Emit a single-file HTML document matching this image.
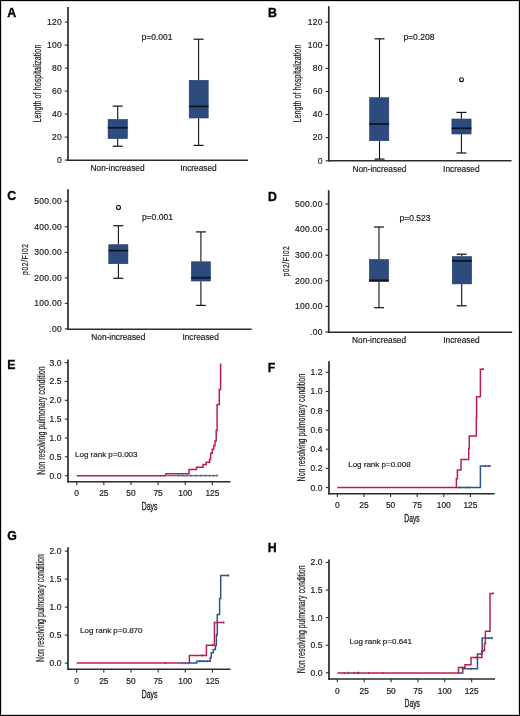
<!DOCTYPE html>
<html><head><meta charset="utf-8"><title>Figure</title>
<style>
html,body{margin:0;padding:0;background:#fff;}
body{width:520px;height:716px;overflow:hidden;}
svg{display:block;font-family:"Liberation Sans", sans-serif;will-change:transform;}
</style></head><body>
<svg width="520" height="716" viewBox="0 0 520 716">
<rect x="0" y="0" width="520" height="716" fill="#fff"/>
<rect x="1.5" y="1.5" width="517" height="713" fill="none" stroke="#d8d8d8" stroke-width="1"/>
<rect x="0.5" y="0.5" width="519" height="715" fill="none" stroke="#000" stroke-width="1"/>
<line x1="68.00" y1="7.00" x2="68.00" y2="161.00" stroke="#2a2a2a" stroke-width="1.7" />
<line x1="67.20" y1="160.20" x2="248.00" y2="160.20" stroke="#2a2a2a" stroke-width="1.6" />
<line x1="64.80" y1="160.10" x2="68.00" y2="160.10" stroke="#2a2a2a" stroke-width="1.1" />
<text x="62.00" y="162.80" font-size="8.5" text-anchor="end" font-weight="normal" fill="#1a1a1a" stroke="#1a1a1a" stroke-width="0.18" letter-spacing="0.3">0</text>
<line x1="64.80" y1="137.10" x2="68.00" y2="137.10" stroke="#2a2a2a" stroke-width="1.1" />
<text x="62.00" y="139.80" font-size="8.5" text-anchor="end" font-weight="normal" fill="#1a1a1a" stroke="#1a1a1a" stroke-width="0.18" letter-spacing="0.3">20</text>
<line x1="64.80" y1="114.10" x2="68.00" y2="114.10" stroke="#2a2a2a" stroke-width="1.1" />
<text x="62.00" y="116.80" font-size="8.5" text-anchor="end" font-weight="normal" fill="#1a1a1a" stroke="#1a1a1a" stroke-width="0.18" letter-spacing="0.3">40</text>
<line x1="64.80" y1="91.10" x2="68.00" y2="91.10" stroke="#2a2a2a" stroke-width="1.1" />
<text x="62.00" y="93.80" font-size="8.5" text-anchor="end" font-weight="normal" fill="#1a1a1a" stroke="#1a1a1a" stroke-width="0.18" letter-spacing="0.3">60</text>
<line x1="64.80" y1="68.10" x2="68.00" y2="68.10" stroke="#2a2a2a" stroke-width="1.1" />
<text x="62.00" y="70.80" font-size="8.5" text-anchor="end" font-weight="normal" fill="#1a1a1a" stroke="#1a1a1a" stroke-width="0.18" letter-spacing="0.3">80</text>
<line x1="64.80" y1="45.10" x2="68.00" y2="45.10" stroke="#2a2a2a" stroke-width="1.1" />
<text x="62.00" y="47.80" font-size="8.5" text-anchor="end" font-weight="normal" fill="#1a1a1a" stroke="#1a1a1a" stroke-width="0.18" letter-spacing="0.3">100</text>
<line x1="64.80" y1="22.10" x2="68.00" y2="22.10" stroke="#2a2a2a" stroke-width="1.1" />
<text x="62.00" y="24.80" font-size="8.5" text-anchor="end" font-weight="normal" fill="#1a1a1a" stroke="#1a1a1a" stroke-width="0.18" letter-spacing="0.3">120</text>
<text x="117.60" y="170.50" font-size="8.3" text-anchor="middle" font-weight="normal" fill="#1a1a1a" stroke="#1a1a1a" stroke-width="0.18" >Non-increased</text>
<text x="198.50" y="170.50" font-size="8.3" text-anchor="middle" font-weight="normal" fill="#1a1a1a" stroke="#1a1a1a" stroke-width="0.18" >Increased</text>
<text transform="translate(40.60,122.50) rotate(-90)" x="0" y="0" font-size="10.4" fill="#1a1a1a" stroke="#1a1a1a" stroke-width="0.2" textLength="77.90" lengthAdjust="spacingAndGlyphs">Length of hospitalization</text>
<line x1="117.70" y1="106.10" x2="117.70" y2="119.20" stroke="#111" stroke-width="1.1" />
<line x1="117.70" y1="138.80" x2="117.70" y2="146.20" stroke="#111" stroke-width="1.1" />
<line x1="112.70" y1="106.10" x2="122.70" y2="106.10" stroke="#111" stroke-width="1.2" />
<line x1="112.70" y1="146.20" x2="122.70" y2="146.20" stroke="#111" stroke-width="1.2" />
<rect x="108.10" y="119.40" width="19.20" height="19.20" fill="#2e4b7e" stroke="#1f3a6c" stroke-width="0.6"/>
<line x1="107.80" y1="127.80" x2="127.60" y2="127.80" stroke="#0b1322" stroke-width="1.7" />
<line x1="198.60" y1="39.20" x2="198.60" y2="80.10" stroke="#111" stroke-width="1.1" />
<line x1="198.60" y1="118.20" x2="198.60" y2="145.40" stroke="#111" stroke-width="1.1" />
<line x1="193.60" y1="39.20" x2="203.60" y2="39.20" stroke="#111" stroke-width="1.2" />
<line x1="193.60" y1="145.40" x2="203.60" y2="145.40" stroke="#111" stroke-width="1.2" />
<rect x="189.20" y="80.30" width="19.00" height="37.70" fill="#2e4b7e" stroke="#1f3a6c" stroke-width="0.6"/>
<line x1="188.90" y1="106.40" x2="208.50" y2="106.40" stroke="#0b1322" stroke-width="1.7" />
<text x="141.60" y="39.90" font-size="8.5" text-anchor="start" font-weight="normal" fill="#1a1a1a" stroke="#1a1a1a" stroke-width="0.18" >p=0.001</text>
<text x="7.30" y="17.20" font-size="12.3" text-anchor="start" font-weight="bold" fill="#000" stroke="#000" stroke-width="0.35" >A</text>
<line x1="328.80" y1="6.20" x2="328.80" y2="161.50" stroke="#2a2a2a" stroke-width="1.7" />
<line x1="328.00" y1="160.70" x2="511.50" y2="160.70" stroke="#2a2a2a" stroke-width="1.6" />
<line x1="325.60" y1="160.80" x2="328.80" y2="160.80" stroke="#2a2a2a" stroke-width="1.1" />
<text x="322.80" y="163.50" font-size="8.5" text-anchor="end" font-weight="normal" fill="#1a1a1a" stroke="#1a1a1a" stroke-width="0.18" letter-spacing="0.3">0</text>
<line x1="325.60" y1="137.70" x2="328.80" y2="137.70" stroke="#2a2a2a" stroke-width="1.1" />
<text x="322.80" y="140.40" font-size="8.5" text-anchor="end" font-weight="normal" fill="#1a1a1a" stroke="#1a1a1a" stroke-width="0.18" letter-spacing="0.3">20</text>
<line x1="325.60" y1="114.60" x2="328.80" y2="114.60" stroke="#2a2a2a" stroke-width="1.1" />
<text x="322.80" y="117.30" font-size="8.5" text-anchor="end" font-weight="normal" fill="#1a1a1a" stroke="#1a1a1a" stroke-width="0.18" letter-spacing="0.3">40</text>
<line x1="325.60" y1="91.50" x2="328.80" y2="91.50" stroke="#2a2a2a" stroke-width="1.1" />
<text x="322.80" y="94.20" font-size="8.5" text-anchor="end" font-weight="normal" fill="#1a1a1a" stroke="#1a1a1a" stroke-width="0.18" letter-spacing="0.3">60</text>
<line x1="325.60" y1="68.40" x2="328.80" y2="68.40" stroke="#2a2a2a" stroke-width="1.1" />
<text x="322.80" y="71.10" font-size="8.5" text-anchor="end" font-weight="normal" fill="#1a1a1a" stroke="#1a1a1a" stroke-width="0.18" letter-spacing="0.3">80</text>
<line x1="325.60" y1="45.30" x2="328.80" y2="45.30" stroke="#2a2a2a" stroke-width="1.1" />
<text x="322.80" y="48.00" font-size="8.5" text-anchor="end" font-weight="normal" fill="#1a1a1a" stroke="#1a1a1a" stroke-width="0.18" letter-spacing="0.3">100</text>
<line x1="325.60" y1="22.20" x2="328.80" y2="22.20" stroke="#2a2a2a" stroke-width="1.1" />
<text x="322.80" y="24.90" font-size="8.5" text-anchor="end" font-weight="normal" fill="#1a1a1a" stroke="#1a1a1a" stroke-width="0.18" letter-spacing="0.3">120</text>
<text x="379.40" y="171.90" font-size="8.3" text-anchor="middle" font-weight="normal" fill="#1a1a1a" stroke="#1a1a1a" stroke-width="0.18" >Non-increased</text>
<text x="461.30" y="171.90" font-size="8.3" text-anchor="middle" font-weight="normal" fill="#1a1a1a" stroke="#1a1a1a" stroke-width="0.18" >Increased</text>
<text transform="translate(301.40,122.50) rotate(-90)" x="0" y="0" font-size="10.4" fill="#1a1a1a" stroke="#1a1a1a" stroke-width="0.2" textLength="77.90" lengthAdjust="spacingAndGlyphs">Length of hospitalization</text>
<line x1="379.50" y1="38.80" x2="379.50" y2="97.50" stroke="#111" stroke-width="1.1" />
<line x1="379.50" y1="140.90" x2="379.50" y2="159.10" stroke="#111" stroke-width="1.1" />
<line x1="374.50" y1="38.80" x2="384.50" y2="38.80" stroke="#111" stroke-width="1.2" />
<line x1="374.50" y1="159.10" x2="384.50" y2="159.10" stroke="#111" stroke-width="1.2" />
<rect x="369.60" y="97.70" width="19.20" height="43.00" fill="#2e4b7e" stroke="#1f3a6c" stroke-width="0.6"/>
<line x1="369.30" y1="124.10" x2="389.10" y2="124.10" stroke="#0b1322" stroke-width="1.7" />
<line x1="461.40" y1="112.40" x2="461.40" y2="118.80" stroke="#111" stroke-width="1.1" />
<line x1="461.40" y1="134.20" x2="461.40" y2="153.00" stroke="#111" stroke-width="1.1" />
<line x1="456.40" y1="112.40" x2="466.40" y2="112.40" stroke="#111" stroke-width="1.2" />
<line x1="456.40" y1="153.00" x2="466.40" y2="153.00" stroke="#111" stroke-width="1.2" />
<rect x="451.90" y="119.00" width="19.20" height="15.00" fill="#2e4b7e" stroke="#1f3a6c" stroke-width="0.6"/>
<line x1="451.60" y1="128.30" x2="471.40" y2="128.30" stroke="#0b1322" stroke-width="1.7" />
<circle cx="461.50" cy="79.70" r="1.95" fill="#fff" stroke="#000" stroke-width="1.1"/>
<text x="403.40" y="39.60" font-size="8.5" text-anchor="start" font-weight="normal" fill="#1a1a1a" stroke="#1a1a1a" stroke-width="0.18" >p=0.208</text>
<text x="268.00" y="16.80" font-size="12.3" text-anchor="start" font-weight="bold" fill="#000" stroke="#000" stroke-width="0.35" >B</text>
<line x1="68.00" y1="189.20" x2="68.00" y2="330.00" stroke="#2a2a2a" stroke-width="1.7" />
<line x1="67.20" y1="329.20" x2="251.70" y2="329.20" stroke="#2a2a2a" stroke-width="1.6" />
<line x1="64.80" y1="328.90" x2="68.00" y2="328.90" stroke="#2a2a2a" stroke-width="1.1" />
<text x="62.00" y="331.60" font-size="8.5" text-anchor="end" font-weight="normal" fill="#1a1a1a" stroke="#1a1a1a" stroke-width="0.18" letter-spacing="0.3">.00</text>
<line x1="64.80" y1="303.38" x2="68.00" y2="303.38" stroke="#2a2a2a" stroke-width="1.1" />
<text x="62.00" y="306.08" font-size="8.5" text-anchor="end" font-weight="normal" fill="#1a1a1a" stroke="#1a1a1a" stroke-width="0.18" letter-spacing="0.3">100.00</text>
<line x1="64.80" y1="277.86" x2="68.00" y2="277.86" stroke="#2a2a2a" stroke-width="1.1" />
<text x="62.00" y="280.56" font-size="8.5" text-anchor="end" font-weight="normal" fill="#1a1a1a" stroke="#1a1a1a" stroke-width="0.18" letter-spacing="0.3">200.00</text>
<line x1="64.80" y1="252.34" x2="68.00" y2="252.34" stroke="#2a2a2a" stroke-width="1.1" />
<text x="62.00" y="255.04" font-size="8.5" text-anchor="end" font-weight="normal" fill="#1a1a1a" stroke="#1a1a1a" stroke-width="0.18" letter-spacing="0.3">300.00</text>
<line x1="64.80" y1="226.82" x2="68.00" y2="226.82" stroke="#2a2a2a" stroke-width="1.1" />
<text x="62.00" y="229.52" font-size="8.5" text-anchor="end" font-weight="normal" fill="#1a1a1a" stroke="#1a1a1a" stroke-width="0.18" letter-spacing="0.3">400.00</text>
<line x1="64.80" y1="201.30" x2="68.00" y2="201.30" stroke="#2a2a2a" stroke-width="1.1" />
<text x="62.00" y="204.00" font-size="8.5" text-anchor="end" font-weight="normal" fill="#1a1a1a" stroke="#1a1a1a" stroke-width="0.18" letter-spacing="0.3">500.00</text>
<text x="118.30" y="340.00" font-size="8.3" text-anchor="middle" font-weight="normal" fill="#1a1a1a" stroke="#1a1a1a" stroke-width="0.18" >Non-increased</text>
<text x="200.60" y="340.00" font-size="8.3" text-anchor="middle" font-weight="normal" fill="#1a1a1a" stroke="#1a1a1a" stroke-width="0.18" >Increased</text>
<text transform="translate(28.00,274.90) rotate(-90) scale(0.7,1)" x="0" y="0" font-size="9.7" fill="#1a1a1a" stroke="#1a1a1a" stroke-width="0.2" textLength="44.29" lengthAdjust="spacing">p02/FI02</text>
<line x1="118.40" y1="225.70" x2="118.40" y2="244.50" stroke="#111" stroke-width="1.1" />
<line x1="118.40" y1="263.90" x2="118.40" y2="278.30" stroke="#111" stroke-width="1.1" />
<line x1="113.40" y1="225.70" x2="123.40" y2="225.70" stroke="#111" stroke-width="1.2" />
<line x1="113.40" y1="278.30" x2="123.40" y2="278.30" stroke="#111" stroke-width="1.2" />
<rect x="108.80" y="244.70" width="19.10" height="19.00" fill="#2e4b7e" stroke="#1f3a6c" stroke-width="0.6"/>
<line x1="108.50" y1="250.60" x2="128.20" y2="250.60" stroke="#0b1322" stroke-width="1.7" />
<line x1="200.90" y1="231.90" x2="200.90" y2="261.60" stroke="#111" stroke-width="1.1" />
<line x1="200.90" y1="281.20" x2="200.90" y2="305.40" stroke="#111" stroke-width="1.1" />
<line x1="195.90" y1="231.90" x2="205.90" y2="231.90" stroke="#111" stroke-width="1.2" />
<line x1="195.90" y1="305.40" x2="205.90" y2="305.40" stroke="#111" stroke-width="1.2" />
<rect x="191.40" y="261.80" width="19.00" height="19.20" fill="#2e4b7e" stroke="#1f3a6c" stroke-width="0.6"/>
<line x1="191.10" y1="277.70" x2="210.70" y2="277.70" stroke="#0b1322" stroke-width="1.7" />
<circle cx="118.50" cy="207.50" r="1.95" fill="#fff" stroke="#000" stroke-width="1.1"/>
<text x="141.90" y="220.40" font-size="8.5" text-anchor="start" font-weight="normal" fill="#1a1a1a" stroke="#1a1a1a" stroke-width="0.18" >p=0.001</text>
<text x="7.20" y="199.80" font-size="12.3" text-anchor="start" font-weight="bold" fill="#000" stroke="#000" stroke-width="0.35" >C</text>
<line x1="328.70" y1="190.20" x2="328.70" y2="333.00" stroke="#2a2a2a" stroke-width="1.7" />
<line x1="327.90" y1="332.20" x2="512.20" y2="332.20" stroke="#2a2a2a" stroke-width="1.6" />
<line x1="325.50" y1="332.00" x2="328.70" y2="332.00" stroke="#2a2a2a" stroke-width="1.1" />
<text x="322.70" y="334.70" font-size="8.5" text-anchor="end" font-weight="normal" fill="#1a1a1a" stroke="#1a1a1a" stroke-width="0.18" letter-spacing="0.3">.00</text>
<line x1="325.50" y1="306.40" x2="328.70" y2="306.40" stroke="#2a2a2a" stroke-width="1.1" />
<text x="322.70" y="309.10" font-size="8.5" text-anchor="end" font-weight="normal" fill="#1a1a1a" stroke="#1a1a1a" stroke-width="0.18" letter-spacing="0.3">100.00</text>
<line x1="325.50" y1="280.80" x2="328.70" y2="280.80" stroke="#2a2a2a" stroke-width="1.1" />
<text x="322.70" y="283.50" font-size="8.5" text-anchor="end" font-weight="normal" fill="#1a1a1a" stroke="#1a1a1a" stroke-width="0.18" letter-spacing="0.3">200.00</text>
<line x1="325.50" y1="255.20" x2="328.70" y2="255.20" stroke="#2a2a2a" stroke-width="1.1" />
<text x="322.70" y="257.90" font-size="8.5" text-anchor="end" font-weight="normal" fill="#1a1a1a" stroke="#1a1a1a" stroke-width="0.18" letter-spacing="0.3">300.00</text>
<line x1="325.50" y1="229.60" x2="328.70" y2="229.60" stroke="#2a2a2a" stroke-width="1.1" />
<text x="322.70" y="232.30" font-size="8.5" text-anchor="end" font-weight="normal" fill="#1a1a1a" stroke="#1a1a1a" stroke-width="0.18" letter-spacing="0.3">400.00</text>
<line x1="325.50" y1="204.00" x2="328.70" y2="204.00" stroke="#2a2a2a" stroke-width="1.1" />
<text x="322.70" y="206.70" font-size="8.5" text-anchor="end" font-weight="normal" fill="#1a1a1a" stroke="#1a1a1a" stroke-width="0.18" letter-spacing="0.3">500.00</text>
<text x="379.10" y="343.00" font-size="8.3" text-anchor="middle" font-weight="normal" fill="#1a1a1a" stroke="#1a1a1a" stroke-width="0.18" >Non-increased</text>
<text x="461.50" y="343.00" font-size="8.3" text-anchor="middle" font-weight="normal" fill="#1a1a1a" stroke="#1a1a1a" stroke-width="0.18" >Increased</text>
<text transform="translate(289.40,276.60) rotate(-90) scale(0.7,1)" x="0" y="0" font-size="9.7" fill="#1a1a1a" stroke="#1a1a1a" stroke-width="0.2" textLength="43.57" lengthAdjust="spacing">p02/FI02</text>
<line x1="379.00" y1="227.00" x2="379.00" y2="259.30" stroke="#111" stroke-width="1.1" />
<line x1="379.00" y1="281.90" x2="379.00" y2="307.70" stroke="#111" stroke-width="1.1" />
<line x1="374.00" y1="227.00" x2="384.00" y2="227.00" stroke="#111" stroke-width="1.2" />
<line x1="374.00" y1="307.70" x2="384.00" y2="307.70" stroke="#111" stroke-width="1.2" />
<rect x="369.40" y="259.50" width="19.20" height="22.20" fill="#2e4b7e" stroke="#1f3a6c" stroke-width="0.6"/>
<line x1="369.10" y1="280.30" x2="388.90" y2="280.30" stroke="#0b1322" stroke-width="1.7" />
<line x1="461.70" y1="254.20" x2="461.70" y2="256.40" stroke="#111" stroke-width="1.1" />
<line x1="461.70" y1="284.10" x2="461.70" y2="305.80" stroke="#111" stroke-width="1.1" />
<line x1="456.70" y1="254.20" x2="466.70" y2="254.20" stroke="#111" stroke-width="1.2" />
<line x1="456.70" y1="305.80" x2="466.70" y2="305.80" stroke="#111" stroke-width="1.2" />
<rect x="452.30" y="256.60" width="19.30" height="27.30" fill="#2e4b7e" stroke="#1f3a6c" stroke-width="0.6"/>
<line x1="452.00" y1="260.90" x2="471.90" y2="260.90" stroke="#0b1322" stroke-width="1.7" />
<text x="399.60" y="220.60" font-size="8.5" text-anchor="start" font-weight="normal" fill="#1a1a1a" stroke="#1a1a1a" stroke-width="0.18" >p=0.523</text>
<text x="268.00" y="200.80" font-size="12.3" text-anchor="start" font-weight="bold" fill="#000" stroke="#000" stroke-width="0.35" >D</text>
<line x1="68.00" y1="359.50" x2="68.00" y2="482.60" stroke="#2a2a2a" stroke-width="1.7" />
<line x1="67.20" y1="481.80" x2="230.40" y2="481.80" stroke="#2a2a2a" stroke-width="1.6" />
<line x1="64.80" y1="475.70" x2="68.00" y2="475.70" stroke="#2a2a2a" stroke-width="1.1" />
<text x="61.40" y="478.60" font-size="8.5" text-anchor="end" font-weight="normal" fill="#1a1a1a" stroke="#1a1a1a" stroke-width="0.18" >0.0</text>
<line x1="64.80" y1="456.85" x2="68.00" y2="456.85" stroke="#2a2a2a" stroke-width="1.1" />
<text x="61.40" y="459.75" font-size="8.5" text-anchor="end" font-weight="normal" fill="#1a1a1a" stroke="#1a1a1a" stroke-width="0.18" >0.5</text>
<line x1="64.80" y1="438.00" x2="68.00" y2="438.00" stroke="#2a2a2a" stroke-width="1.1" />
<text x="61.40" y="440.90" font-size="8.5" text-anchor="end" font-weight="normal" fill="#1a1a1a" stroke="#1a1a1a" stroke-width="0.18" >1.0</text>
<line x1="64.80" y1="419.15" x2="68.00" y2="419.15" stroke="#2a2a2a" stroke-width="1.1" />
<text x="61.40" y="422.05" font-size="8.5" text-anchor="end" font-weight="normal" fill="#1a1a1a" stroke="#1a1a1a" stroke-width="0.18" >1.5</text>
<line x1="64.80" y1="400.30" x2="68.00" y2="400.30" stroke="#2a2a2a" stroke-width="1.1" />
<text x="61.40" y="403.20" font-size="8.5" text-anchor="end" font-weight="normal" fill="#1a1a1a" stroke="#1a1a1a" stroke-width="0.18" >2.0</text>
<line x1="64.80" y1="381.45" x2="68.00" y2="381.45" stroke="#2a2a2a" stroke-width="1.1" />
<text x="61.40" y="384.35" font-size="8.5" text-anchor="end" font-weight="normal" fill="#1a1a1a" stroke="#1a1a1a" stroke-width="0.18" >2.5</text>
<line x1="64.80" y1="362.60" x2="68.00" y2="362.60" stroke="#2a2a2a" stroke-width="1.1" />
<text x="61.40" y="365.50" font-size="8.5" text-anchor="end" font-weight="normal" fill="#1a1a1a" stroke="#1a1a1a" stroke-width="0.18" >3.0</text>
<line x1="76.70" y1="481.80" x2="76.70" y2="485.00" stroke="#2a2a2a" stroke-width="1.1" />
<text x="76.70" y="496.30" font-size="8.4" text-anchor="middle" font-weight="normal" fill="#1a1a1a" stroke="#1a1a1a" stroke-width="0.18" >0</text>
<line x1="103.84" y1="481.80" x2="103.84" y2="485.00" stroke="#2a2a2a" stroke-width="1.1" />
<text x="103.84" y="496.30" font-size="8.4" text-anchor="middle" font-weight="normal" fill="#1a1a1a" stroke="#1a1a1a" stroke-width="0.18" >25</text>
<line x1="130.98" y1="481.80" x2="130.98" y2="485.00" stroke="#2a2a2a" stroke-width="1.1" />
<text x="130.98" y="496.30" font-size="8.4" text-anchor="middle" font-weight="normal" fill="#1a1a1a" stroke="#1a1a1a" stroke-width="0.18" >50</text>
<line x1="158.12" y1="481.80" x2="158.12" y2="485.00" stroke="#2a2a2a" stroke-width="1.1" />
<text x="158.12" y="496.30" font-size="8.4" text-anchor="middle" font-weight="normal" fill="#1a1a1a" stroke="#1a1a1a" stroke-width="0.18" >75</text>
<line x1="185.26" y1="481.80" x2="185.26" y2="485.00" stroke="#2a2a2a" stroke-width="1.1" />
<text x="185.26" y="496.30" font-size="8.4" text-anchor="middle" font-weight="normal" fill="#1a1a1a" stroke="#1a1a1a" stroke-width="0.18" >100</text>
<line x1="212.40" y1="481.80" x2="212.40" y2="485.00" stroke="#2a2a2a" stroke-width="1.1" />
<text x="212.40" y="496.30" font-size="8.4" text-anchor="middle" font-weight="normal" fill="#1a1a1a" stroke="#1a1a1a" stroke-width="0.18" >125</text>
<text x="141.70" y="509.60" font-size="10.4" fill="#1a1a1a" stroke="#1a1a1a" stroke-width="0.3" textLength="15.70" lengthAdjust="spacingAndGlyphs">Days</text>
<text transform="translate(44.50,474.70) rotate(-90)" x="0" y="0" font-size="10.6" fill="#1a1a1a" stroke="#1a1a1a" stroke-width="0.2" textLength="108.30" lengthAdjust="spacingAndGlyphs">Non resolving pulmonary condition</text>
<text x="75.00" y="457.00" font-size="8.0" text-anchor="start" font-weight="normal" fill="#1a1a1a" stroke="#1a1a1a" stroke-width="0.18" >Log rank p=0.003</text>
<text x="7.30" y="369.00" font-size="12.3" text-anchor="start" font-weight="bold" fill="#000" stroke="#000" stroke-width="0.35" >E</text>
<path d="M166.90,475.60 L217.70,475.60" fill="none" stroke="#4a6ca8" stroke-width="1.2" stroke-linejoin="miter"/>
<path d="M76.70,475.70 L165.80,475.70 L165.80,473.70 L189.00,473.70 L189.00,469.40 L196.50,469.40 L196.50,467.30 L203.10,467.30 L203.10,464.50 L206.20,464.50 L206.20,462.20 L209.60,462.20 L209.60,459.40 L210.60,459.40 L210.60,453.30 L212.30,453.30 L212.30,449.30 L213.70,449.30 L213.70,445.40 L215.00,445.40 L215.00,440.90 L216.20,440.90 L216.20,430.40 L217.10,430.40 L217.10,404.40 L219.30,404.40 L219.30,389.40 L220.60,389.40 L220.60,363.40" fill="none" stroke="#bd1e48" stroke-width="1.5" stroke-linejoin="miter"/>
<line x1="178.70" y1="474.50" x2="178.70" y2="476.70" stroke="#4a6ca8" stroke-width="1.1" />
<line x1="182.80" y1="474.50" x2="182.80" y2="476.70" stroke="#4a6ca8" stroke-width="1.1" />
<line x1="186.50" y1="474.50" x2="186.50" y2="476.70" stroke="#4a6ca8" stroke-width="1.1" />
<line x1="190.80" y1="474.50" x2="190.80" y2="476.70" stroke="#4a6ca8" stroke-width="1.1" />
<line x1="196.20" y1="474.50" x2="196.20" y2="476.70" stroke="#4a6ca8" stroke-width="1.1" />
<line x1="201.00" y1="474.50" x2="201.00" y2="476.70" stroke="#4a6ca8" stroke-width="1.1" />
<line x1="205.50" y1="474.50" x2="205.50" y2="476.70" stroke="#4a6ca8" stroke-width="1.1" />
<line x1="209.50" y1="474.50" x2="209.50" y2="476.70" stroke="#4a6ca8" stroke-width="1.1" />
<line x1="213.50" y1="474.50" x2="213.50" y2="476.70" stroke="#4a6ca8" stroke-width="1.1" />
<line x1="217.00" y1="474.50" x2="217.00" y2="476.70" stroke="#4a6ca8" stroke-width="1.1" />
<line x1="329.00" y1="361.20" x2="329.00" y2="494.60" stroke="#2a2a2a" stroke-width="1.7" />
<line x1="328.20" y1="493.80" x2="494.60" y2="493.80" stroke="#2a2a2a" stroke-width="1.6" />
<line x1="325.80" y1="487.60" x2="329.00" y2="487.60" stroke="#2a2a2a" stroke-width="1.1" />
<text x="322.40" y="490.50" font-size="8.5" text-anchor="end" font-weight="normal" fill="#1a1a1a" stroke="#1a1a1a" stroke-width="0.18" >0.0</text>
<line x1="325.80" y1="468.38" x2="329.00" y2="468.38" stroke="#2a2a2a" stroke-width="1.1" />
<text x="322.40" y="471.28" font-size="8.5" text-anchor="end" font-weight="normal" fill="#1a1a1a" stroke="#1a1a1a" stroke-width="0.18" >0.2</text>
<line x1="325.80" y1="449.16" x2="329.00" y2="449.16" stroke="#2a2a2a" stroke-width="1.1" />
<text x="322.40" y="452.06" font-size="8.5" text-anchor="end" font-weight="normal" fill="#1a1a1a" stroke="#1a1a1a" stroke-width="0.18" >0.4</text>
<line x1="325.80" y1="429.94" x2="329.00" y2="429.94" stroke="#2a2a2a" stroke-width="1.1" />
<text x="322.40" y="432.84" font-size="8.5" text-anchor="end" font-weight="normal" fill="#1a1a1a" stroke="#1a1a1a" stroke-width="0.18" >0.6</text>
<line x1="325.80" y1="410.72" x2="329.00" y2="410.72" stroke="#2a2a2a" stroke-width="1.1" />
<text x="322.40" y="413.62" font-size="8.5" text-anchor="end" font-weight="normal" fill="#1a1a1a" stroke="#1a1a1a" stroke-width="0.18" >0.8</text>
<line x1="325.80" y1="391.50" x2="329.00" y2="391.50" stroke="#2a2a2a" stroke-width="1.1" />
<text x="322.40" y="394.40" font-size="8.5" text-anchor="end" font-weight="normal" fill="#1a1a1a" stroke="#1a1a1a" stroke-width="0.18" >1.0</text>
<line x1="325.80" y1="372.28" x2="329.00" y2="372.28" stroke="#2a2a2a" stroke-width="1.1" />
<text x="322.40" y="375.18" font-size="8.5" text-anchor="end" font-weight="normal" fill="#1a1a1a" stroke="#1a1a1a" stroke-width="0.18" >1.2</text>
<line x1="337.30" y1="493.80" x2="337.30" y2="497.00" stroke="#2a2a2a" stroke-width="1.1" />
<text x="337.30" y="508.10" font-size="8.4" text-anchor="middle" font-weight="normal" fill="#1a1a1a" stroke="#1a1a1a" stroke-width="0.18" >0</text>
<line x1="363.93" y1="493.80" x2="363.93" y2="497.00" stroke="#2a2a2a" stroke-width="1.1" />
<text x="363.93" y="508.10" font-size="8.4" text-anchor="middle" font-weight="normal" fill="#1a1a1a" stroke="#1a1a1a" stroke-width="0.18" >25</text>
<line x1="390.55" y1="493.80" x2="390.55" y2="497.00" stroke="#2a2a2a" stroke-width="1.1" />
<text x="390.55" y="508.10" font-size="8.4" text-anchor="middle" font-weight="normal" fill="#1a1a1a" stroke="#1a1a1a" stroke-width="0.18" >50</text>
<line x1="417.18" y1="493.80" x2="417.18" y2="497.00" stroke="#2a2a2a" stroke-width="1.1" />
<text x="417.18" y="508.10" font-size="8.4" text-anchor="middle" font-weight="normal" fill="#1a1a1a" stroke="#1a1a1a" stroke-width="0.18" >75</text>
<line x1="443.80" y1="493.80" x2="443.80" y2="497.00" stroke="#2a2a2a" stroke-width="1.1" />
<text x="443.80" y="508.10" font-size="8.4" text-anchor="middle" font-weight="normal" fill="#1a1a1a" stroke="#1a1a1a" stroke-width="0.18" >100</text>
<line x1="470.43" y1="493.80" x2="470.43" y2="497.00" stroke="#2a2a2a" stroke-width="1.1" />
<text x="470.43" y="508.10" font-size="8.4" text-anchor="middle" font-weight="normal" fill="#1a1a1a" stroke="#1a1a1a" stroke-width="0.18" >125</text>
<text x="404.30" y="521.80" font-size="10.4" fill="#1a1a1a" stroke="#1a1a1a" stroke-width="0.3" textLength="15.40" lengthAdjust="spacingAndGlyphs">Days</text>
<text transform="translate(305.20,481.40) rotate(-90)" x="0" y="0" font-size="10.6" fill="#1a1a1a" stroke="#1a1a1a" stroke-width="0.2" textLength="107.50" lengthAdjust="spacingAndGlyphs">Non resolving pulmonary condition</text>
<text x="348.20" y="466.90" font-size="8.0" text-anchor="start" font-weight="normal" fill="#1a1a1a" stroke="#1a1a1a" stroke-width="0.18" >Log rank p=0.008</text>
<text x="267.80" y="371.80" font-size="12.3" text-anchor="start" font-weight="bold" fill="#000" stroke="#000" stroke-width="0.35" >F</text>
<path d="M456.40,487.50 L480.40,487.50 L480.40,466.00 L490.90,466.00" fill="none" stroke="#31508f" stroke-width="1.5" stroke-linejoin="miter"/>
<path d="M337.30,487.50 L456.40,487.50 L456.40,478.70 L457.40,478.70 L457.40,470.10 L461.00,470.10 L461.00,459.60 L468.70,459.60 L468.70,448.50 L469.30,448.50 L469.30,435.90 L476.30,435.90 L476.30,418.10 L476.60,418.10 L476.60,396.80 L480.40,396.80 L480.40,369.20 L483.80,369.20" fill="none" stroke="#bd1e48" stroke-width="1.5" stroke-linejoin="miter"/>
<line x1="460.00" y1="486.40" x2="460.00" y2="488.60" stroke="#31508f" stroke-width="1.1" />
<line x1="466.00" y1="486.40" x2="466.00" y2="488.60" stroke="#31508f" stroke-width="1.1" />
<line x1="469.00" y1="486.40" x2="469.00" y2="488.60" stroke="#31508f" stroke-width="1.1" />
<line x1="485.00" y1="464.90" x2="485.00" y2="467.10" stroke="#31508f" stroke-width="1.1" />
<line x1="489.00" y1="464.90" x2="489.00" y2="467.10" stroke="#31508f" stroke-width="1.1" />
<line x1="483.20" y1="368.10" x2="483.20" y2="370.30" stroke="#bd1e48" stroke-width="1.1" />
<line x1="68.00" y1="547.30" x2="68.00" y2="670.10" stroke="#2a2a2a" stroke-width="1.7" />
<line x1="67.20" y1="669.30" x2="230.60" y2="669.30" stroke="#2a2a2a" stroke-width="1.6" />
<line x1="64.80" y1="663.10" x2="68.00" y2="663.10" stroke="#2a2a2a" stroke-width="1.1" />
<text x="61.40" y="666.00" font-size="8.5" text-anchor="end" font-weight="normal" fill="#1a1a1a" stroke="#1a1a1a" stroke-width="0.18" >0.0</text>
<line x1="64.80" y1="635.10" x2="68.00" y2="635.10" stroke="#2a2a2a" stroke-width="1.1" />
<text x="61.40" y="638.00" font-size="8.5" text-anchor="end" font-weight="normal" fill="#1a1a1a" stroke="#1a1a1a" stroke-width="0.18" >0.5</text>
<line x1="64.80" y1="607.10" x2="68.00" y2="607.10" stroke="#2a2a2a" stroke-width="1.1" />
<text x="61.40" y="610.00" font-size="8.5" text-anchor="end" font-weight="normal" fill="#1a1a1a" stroke="#1a1a1a" stroke-width="0.18" >1.0</text>
<line x1="64.80" y1="579.10" x2="68.00" y2="579.10" stroke="#2a2a2a" stroke-width="1.1" />
<text x="61.40" y="582.00" font-size="8.5" text-anchor="end" font-weight="normal" fill="#1a1a1a" stroke="#1a1a1a" stroke-width="0.18" >1.5</text>
<line x1="64.80" y1="551.10" x2="68.00" y2="551.10" stroke="#2a2a2a" stroke-width="1.1" />
<text x="61.40" y="554.00" font-size="8.5" text-anchor="end" font-weight="normal" fill="#1a1a1a" stroke="#1a1a1a" stroke-width="0.18" >2.0</text>
<line x1="76.70" y1="669.30" x2="76.70" y2="672.50" stroke="#2a2a2a" stroke-width="1.1" />
<text x="76.70" y="683.80" font-size="8.4" text-anchor="middle" font-weight="normal" fill="#1a1a1a" stroke="#1a1a1a" stroke-width="0.18" >0</text>
<line x1="103.84" y1="669.30" x2="103.84" y2="672.50" stroke="#2a2a2a" stroke-width="1.1" />
<text x="103.84" y="683.80" font-size="8.4" text-anchor="middle" font-weight="normal" fill="#1a1a1a" stroke="#1a1a1a" stroke-width="0.18" >25</text>
<line x1="130.98" y1="669.30" x2="130.98" y2="672.50" stroke="#2a2a2a" stroke-width="1.1" />
<text x="130.98" y="683.80" font-size="8.4" text-anchor="middle" font-weight="normal" fill="#1a1a1a" stroke="#1a1a1a" stroke-width="0.18" >50</text>
<line x1="158.12" y1="669.30" x2="158.12" y2="672.50" stroke="#2a2a2a" stroke-width="1.1" />
<text x="158.12" y="683.80" font-size="8.4" text-anchor="middle" font-weight="normal" fill="#1a1a1a" stroke="#1a1a1a" stroke-width="0.18" >75</text>
<line x1="185.26" y1="669.30" x2="185.26" y2="672.50" stroke="#2a2a2a" stroke-width="1.1" />
<text x="185.26" y="683.80" font-size="8.4" text-anchor="middle" font-weight="normal" fill="#1a1a1a" stroke="#1a1a1a" stroke-width="0.18" >100</text>
<line x1="212.40" y1="669.30" x2="212.40" y2="672.50" stroke="#2a2a2a" stroke-width="1.1" />
<text x="212.40" y="683.80" font-size="8.4" text-anchor="middle" font-weight="normal" fill="#1a1a1a" stroke="#1a1a1a" stroke-width="0.18" >125</text>
<text x="141.70" y="697.60" font-size="10.4" fill="#1a1a1a" stroke="#1a1a1a" stroke-width="0.3" textLength="15.70" lengthAdjust="spacingAndGlyphs">Days</text>
<text transform="translate(43.70,661.90) rotate(-90)" x="0" y="0" font-size="10.6" fill="#1a1a1a" stroke="#1a1a1a" stroke-width="0.2" textLength="107.70" lengthAdjust="spacingAndGlyphs">Non resolving pulmonary condition</text>
<text x="80.00" y="632.80" font-size="8.0" text-anchor="start" font-weight="normal" fill="#1a1a1a" stroke="#1a1a1a" stroke-width="0.18" >Log rank p=0.870</text>
<text x="7.20" y="539.80" font-size="12.3" text-anchor="start" font-weight="bold" fill="#000" stroke="#000" stroke-width="0.35" >G</text>
<path d="M76.70,663.10 L189.40,663.10 L189.40,655.40 L206.40,655.40 L206.40,645.20 L214.40,645.20 L214.40,622.50 L224.50,622.50" fill="none" stroke="#bd1e48" stroke-width="1.5" stroke-linejoin="miter"/>
<path d="M189.60,663.10 L196.70,663.10 L196.70,661.20 L210.20,661.20 L210.20,657.60 L211.30,657.60 L211.30,652.70 L213.30,652.70 L213.30,649.60 L215.40,649.60 L215.40,645.40 L216.40,645.40 L216.40,634.80 L217.30,634.80 L217.30,614.50 L219.60,614.50 L219.60,598.40 L220.70,598.40 L220.70,575.40 L229.20,575.40" fill="none" stroke="#31508f" stroke-width="1.5" stroke-linejoin="miter"/>
<line x1="202.30" y1="654.30" x2="202.30" y2="656.50" stroke="#bd1e48" stroke-width="1.1" />
<line x1="212.30" y1="644.10" x2="212.30" y2="646.30" stroke="#bd1e48" stroke-width="1.1" />
<line x1="223.60" y1="621.40" x2="223.60" y2="623.60" stroke="#bd1e48" stroke-width="1.1" />
<line x1="165.50" y1="662.00" x2="165.50" y2="664.20" stroke="#31508f" stroke-width="1.1" />
<line x1="182.30" y1="662.00" x2="182.30" y2="664.20" stroke="#31508f" stroke-width="1.1" />
<line x1="185.30" y1="662.00" x2="185.30" y2="664.20" stroke="#31508f" stroke-width="1.1" />
<line x1="188.40" y1="662.00" x2="188.40" y2="664.20" stroke="#31508f" stroke-width="1.1" />
<line x1="199.20" y1="660.10" x2="199.20" y2="662.30" stroke="#31508f" stroke-width="1.1" />
<line x1="201.20" y1="660.10" x2="201.20" y2="662.30" stroke="#31508f" stroke-width="1.1" />
<line x1="203.80" y1="660.10" x2="203.80" y2="662.30" stroke="#31508f" stroke-width="1.1" />
<line x1="207.30" y1="660.10" x2="207.30" y2="662.30" stroke="#31508f" stroke-width="1.1" />
<line x1="228.40" y1="574.30" x2="228.40" y2="576.50" stroke="#31508f" stroke-width="1.1" />
<line x1="329.00" y1="559.40" x2="329.00" y2="679.80" stroke="#2a2a2a" stroke-width="1.7" />
<line x1="328.20" y1="679.00" x2="495.00" y2="679.00" stroke="#2a2a2a" stroke-width="1.6" />
<line x1="325.80" y1="672.80" x2="329.00" y2="672.80" stroke="#2a2a2a" stroke-width="1.1" />
<text x="322.40" y="675.70" font-size="8.5" text-anchor="end" font-weight="normal" fill="#1a1a1a" stroke="#1a1a1a" stroke-width="0.18" >0.0</text>
<line x1="325.80" y1="645.22" x2="329.00" y2="645.22" stroke="#2a2a2a" stroke-width="1.1" />
<text x="322.40" y="648.12" font-size="8.5" text-anchor="end" font-weight="normal" fill="#1a1a1a" stroke="#1a1a1a" stroke-width="0.18" >0.5</text>
<line x1="325.80" y1="617.65" x2="329.00" y2="617.65" stroke="#2a2a2a" stroke-width="1.1" />
<text x="322.40" y="620.55" font-size="8.5" text-anchor="end" font-weight="normal" fill="#1a1a1a" stroke="#1a1a1a" stroke-width="0.18" >1.0</text>
<line x1="325.80" y1="590.07" x2="329.00" y2="590.07" stroke="#2a2a2a" stroke-width="1.1" />
<text x="322.40" y="592.97" font-size="8.5" text-anchor="end" font-weight="normal" fill="#1a1a1a" stroke="#1a1a1a" stroke-width="0.18" >1.5</text>
<line x1="325.80" y1="562.50" x2="329.00" y2="562.50" stroke="#2a2a2a" stroke-width="1.1" />
<text x="322.40" y="565.40" font-size="8.5" text-anchor="end" font-weight="normal" fill="#1a1a1a" stroke="#1a1a1a" stroke-width="0.18" >2.0</text>
<line x1="337.30" y1="679.00" x2="337.30" y2="682.20" stroke="#2a2a2a" stroke-width="1.1" />
<text x="337.30" y="693.60" font-size="8.4" text-anchor="middle" font-weight="normal" fill="#1a1a1a" stroke="#1a1a1a" stroke-width="0.18" >0</text>
<line x1="364.18" y1="679.00" x2="364.18" y2="682.20" stroke="#2a2a2a" stroke-width="1.1" />
<text x="364.18" y="693.60" font-size="8.4" text-anchor="middle" font-weight="normal" fill="#1a1a1a" stroke="#1a1a1a" stroke-width="0.18" >25</text>
<line x1="391.05" y1="679.00" x2="391.05" y2="682.20" stroke="#2a2a2a" stroke-width="1.1" />
<text x="391.05" y="693.60" font-size="8.4" text-anchor="middle" font-weight="normal" fill="#1a1a1a" stroke="#1a1a1a" stroke-width="0.18" >50</text>
<line x1="417.93" y1="679.00" x2="417.93" y2="682.20" stroke="#2a2a2a" stroke-width="1.1" />
<text x="417.93" y="693.60" font-size="8.4" text-anchor="middle" font-weight="normal" fill="#1a1a1a" stroke="#1a1a1a" stroke-width="0.18" >75</text>
<line x1="444.80" y1="679.00" x2="444.80" y2="682.20" stroke="#2a2a2a" stroke-width="1.1" />
<text x="444.80" y="693.60" font-size="8.4" text-anchor="middle" font-weight="normal" fill="#1a1a1a" stroke="#1a1a1a" stroke-width="0.18" >100</text>
<line x1="471.68" y1="679.00" x2="471.68" y2="682.20" stroke="#2a2a2a" stroke-width="1.1" />
<text x="471.68" y="693.60" font-size="8.4" text-anchor="middle" font-weight="normal" fill="#1a1a1a" stroke="#1a1a1a" stroke-width="0.18" >125</text>
<text x="404.50" y="707.40" font-size="10.4" fill="#1a1a1a" stroke="#1a1a1a" stroke-width="0.3" textLength="15.40" lengthAdjust="spacingAndGlyphs">Days</text>
<text transform="translate(304.60,673.20) rotate(-90)" x="0" y="0" font-size="10.6" fill="#1a1a1a" stroke="#1a1a1a" stroke-width="0.2" textLength="107.90" lengthAdjust="spacingAndGlyphs">Non resolving pulmonary condition</text>
<text x="349.50" y="643.90" font-size="8.0" text-anchor="start" font-weight="normal" fill="#1a1a1a" stroke="#1a1a1a" stroke-width="0.18" >Log rank p=0.641</text>
<text x="267.80" y="551.80" font-size="12.3" text-anchor="start" font-weight="bold" fill="#000" stroke="#000" stroke-width="0.35" >H</text>
<path d="M458.00,673.10 L462.70,673.10 L462.70,668.80 L477.50,668.80 L477.50,654.00 L482.20,654.00 L482.20,638.10 L492.80,638.10" fill="none" stroke="#31508f" stroke-width="1.5" stroke-linejoin="miter"/>
<path d="M337.30,673.00 L458.50,673.00 L458.50,667.50 L465.00,667.50 L465.00,664.80 L471.00,664.80 L471.00,657.50 L481.90,657.50 L481.90,650.80 L484.50,650.80 L484.50,643.50 L485.40,643.50 L485.40,631.30 L490.00,631.30 L490.00,593.40 L493.80,593.40" fill="none" stroke="#bd1e48" stroke-width="1.5" stroke-linejoin="miter"/>
<line x1="348.30" y1="671.80" x2="348.30" y2="674.00" stroke="#31508f" stroke-width="1.1" />
<line x1="354.00" y1="671.80" x2="354.00" y2="674.00" stroke="#31508f" stroke-width="1.1" />
<line x1="357.60" y1="671.80" x2="357.60" y2="674.00" stroke="#31508f" stroke-width="1.1" />
<line x1="358.80" y1="671.80" x2="358.80" y2="674.00" stroke="#31508f" stroke-width="1.1" />
<line x1="471.00" y1="667.70" x2="471.00" y2="669.90" stroke="#31508f" stroke-width="1.1" />
<line x1="477.50" y1="661.20" x2="477.50" y2="663.40" stroke="#31508f" stroke-width="1.1" />
<line x1="489.00" y1="637.00" x2="489.00" y2="639.20" stroke="#31508f" stroke-width="1.1" />
<line x1="492.00" y1="637.00" x2="492.00" y2="639.20" stroke="#31508f" stroke-width="1.1" />
<line x1="344.20" y1="671.90" x2="344.20" y2="674.10" stroke="#bd1e48" stroke-width="1.1" />
<line x1="368.70" y1="671.90" x2="368.70" y2="674.10" stroke="#bd1e48" stroke-width="1.1" />
<line x1="382.90" y1="671.90" x2="382.90" y2="674.10" stroke="#bd1e48" stroke-width="1.1" />
<line x1="462.00" y1="666.40" x2="462.00" y2="668.60" stroke="#bd1e48" stroke-width="1.1" />
<line x1="476.00" y1="656.40" x2="476.00" y2="658.60" stroke="#bd1e48" stroke-width="1.1" />
<line x1="493.00" y1="592.30" x2="493.00" y2="594.50" stroke="#bd1e48" stroke-width="1.1" />
</svg>
</body></html>
